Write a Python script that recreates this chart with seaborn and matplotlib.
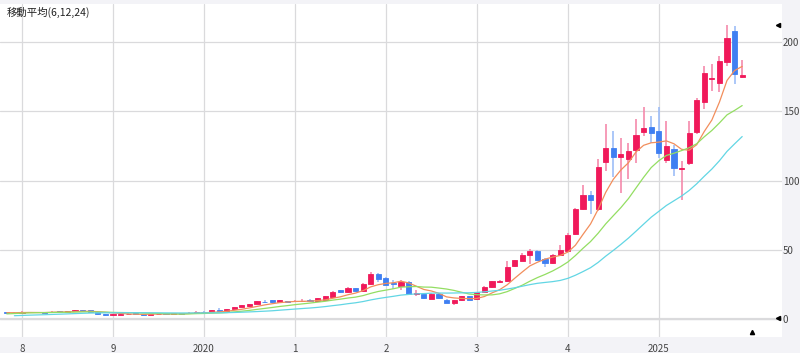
import numpy as np
import pandas as pd
import matplotlib
matplotlib.use("Agg")
import matplotlib.pyplot as plt
import seaborn as sns

# monthly candles, Nov 2017 .. Dec 2025
opens = [4.8, 4.6, 4.3, 4.9, 5.1, 5.0, 4.9, 5.6, 5.2, 5.8, 6.6, 6.7, 4.8, 3.8, 2.8, 3.2,
         3.6, 4.2, 3.8, 2.9, 3.8, 4.2, 4.0, 4.3, 4.1, 4.5, 5.3, 5.2, 6.5, 6.0, 7.2, 8.7,
         9.2, 10.8, 12.6, 13.5, 12.2, 13.0, 12.8, 13.2, 14.0, 12.8, 14.0, 16.0, 20.7, 19.3, 22.5, 20.0,
         25.4, 32.8, 29.7, 25.8, 24.1, 26.8, 18.3, 18.3, 14.8, 18.3, 14.0, 11.6, 13.5, 16.4, 14.5, 19.8,
         22.9, 27.0, 27.2, 38.1, 42.2, 46.6, 49.5, 43.7, 40.6, 46.6, 49.0, 61.8, 79.7, 90.0, 79.2, 113.5,
         123.4, 117.4, 116.0, 122.0, 134.8, 138.8, 136.0, 115.0, 123.0, 108.4, 113.0, 135.5, 156.5, 173.8, 170.3, 185.5,
         208.4, 174.6]
closes = [4.2, 4.2, 5.4, 5.2, 4.8, 4.7, 5.5, 5.3, 5.6, 6.5, 6.2, 5.0, 3.5, 2.8, 3.4, 3.8,
          4.0, 3.8, 2.8, 3.6, 4.0, 3.9, 4.2, 4.0, 4.6, 5.4, 4.8, 6.5, 5.8, 7.0, 8.7, 9.9,
          10.8, 12.8, 12.3, 12.2, 13.5, 12.6, 13.2, 13.4, 12.8, 14.9, 16.4, 19.8, 19.3, 22.5, 20.0, 25.6,
          32.6, 29.2, 24.9, 25.3, 26.8, 18.1, 18.6, 14.9, 18.3, 14.9, 11.6, 13.5, 16.4, 14.0, 19.3, 23.2,
          27.2, 27.3, 37.7, 42.5, 46.6, 49.5, 43.0, 40.6, 46.6, 49.7, 61.0, 79.2, 90.0, 86.0, 109.9, 123.4,
          117.4, 119.6, 121.5, 133.0, 138.4, 134.3, 120.3, 125.0, 109.0, 109.0, 134.3, 158.2, 177.8, 174.5, 186.7, 203.0,
          177.0, 176.3]
highs = [5.0, 4.8, 5.7, 5.5, 5.3, 5.2, 5.8, 5.8, 5.9, 6.9, 6.9, 6.9, 5.0, 4.0, 3.6, 4.0,
         4.3, 4.4, 4.0, 3.8, 4.3, 4.4, 4.5, 4.5, 4.8, 5.6, 5.6, 6.8, 7.8, 7.3, 9.0, 10.2,
         11.2, 13.2, 13.8, 13.8, 13.8, 13.3, 13.6, 14.6, 14.3, 15.3, 16.8, 20.2, 21.0, 22.9, 22.8, 26.0,
         34.0, 33.2, 30.5, 28.0, 28.0, 27.2, 21.0, 18.6, 18.6, 18.6, 14.3, 13.8, 16.8, 16.8, 19.8, 23.8,
         27.8, 28.5, 41.7, 43.0, 47.5, 50.5, 50.0, 44.5, 47.0, 53.5, 62.0, 80.0, 97.0, 92.5, 115.4, 140.8,
         136.0, 131.0, 127.5, 144.4, 152.9, 146.4, 152.9, 143.2, 126.0, 114.2, 143.2, 160.0, 183.0, 184.3, 190.3, 212.5,
         211.6, 187.0]
lows = [4.0, 4.0, 4.2, 4.7, 4.6, 4.5, 4.8, 5.1, 5.0, 5.6, 6.0, 4.8, 3.3, 2.6, 2.6, 3.0,
        3.4, 3.6, 2.6, 2.7, 3.6, 3.7, 3.8, 3.8, 3.9, 4.3, 4.6, 5.0, 5.4, 5.8, 7.0, 8.5,
        9.0, 10.6, 11.5, 12.0, 12.0, 12.4, 12.5, 12.5, 12.5, 12.6, 13.8, 15.8, 19.0, 19.0, 19.7, 19.8,
        25.0, 27.0, 24.5, 22.0, 21.0, 17.8, 17.0, 14.6, 14.5, 14.6, 11.3, 10.5, 13.2, 13.5, 14.0, 19.5,
        22.5, 26.0, 27.0, 37.8, 41.8, 40.0, 42.5, 38.0, 40.0, 46.0, 48.5, 61.0, 78.5, 76.0, 78.0, 107.0,
        103.0, 91.0, 101.0, 113.0, 132.3, 127.5, 116.7, 113.0, 103.3, 86.4, 111.0, 134.0, 151.7, 165.0, 164.2, 183.0,
        169.8, 174.0]
# earlier closes (Jan 2016 .. Oct 2017), only used to start the averages
prior_closes = [0.6, 0.6, 0.7, 0.8, 0.8, 0.9, 0.9, 1.0, 1.0, 1.1, 1.2, 1.3,
                2.2, 2.8, 3.3, 3.8, 4.1, 4.4, 4.6, 4.8, 5.0, 4.9]
year_ticks = [2, 14, 26, 38, 50, 62, 74, 86]
year_labels = ["8", "9", "2020", "1", "2", "3", "4", "2025"]
ma_windows = [6, 12, 24]
ma_colors = ["#f28e5c", "#93de62", "#62d6e4"]

df = pd.DataFrame({"open": opens, "high": highs, "low": lows, "close": closes})
df["pos"] = np.arange(len(df))
up = df["close"] >= df["open"]

all_close = pd.Series(prior_closes + closes)
n0 = len(prior_closes)

sns.set_style("white")
plt.rcParams["font.family"] = ["Noto Sans CJK JP", "DejaVu Sans"]

fig = plt.figure(figsize=(8, 3.53), dpi=100)
fig.patch.set_facecolor("#f3f3f7")
ax = fig.add_axes([0, 0.045, 0.977, 0.944])
ax.set_facecolor("white")

ax.grid(True, color="#dadadc", linewidth=0.9)
ax.set_axisbelow(True)
ax.axhline(0, color="#dcdcde", linewidth=1.6, zorder=0)

red, blue = "#f0195a", "#3f7ff2"
red_w, blue_w = "#f58aab", "#9dbdf7"
for is_up, body, wick in [(True, red, red_w), (False, blue, blue_w)]:
    d = df[up == is_up]
    ax.vlines(d["pos"], d["low"], d["high"], color=wick, linewidth=1.2, zorder=2)
    lo = np.minimum(d["open"], d["close"])
    h = (d["close"] - d["open"]).abs()
    ax.bar(d["pos"], h, bottom=lo, width=0.68, color=body, edgecolor=body,
           linewidth=0.6, zorder=3)

for w, c in zip(ma_windows, ma_colors):
    ma = all_close.rolling(w).mean().iloc[n0:].reset_index(drop=True)
    m = pd.DataFrame({"pos": df["pos"], "ma": ma}).dropna()
    sns.lineplot(data=m, x="pos", y="ma", ax=ax, color=c, linewidth=0.9,
                 estimator=None, zorder=4)

ax.set_xlim(-0.9, 102.2)
ax.set_ylim(-13, 227.7)
ax.set_xticks(year_ticks)
ax.set_xticklabels(year_labels)
ax.set_yticks([0, 50, 100, 150, 200])
ax.yaxis.tick_right()
ax.tick_params(axis="y", length=0, pad=1, labelsize=7, labelcolor="#444444")
ax.tick_params(axis="x", length=2, width=0.8, color="#888888", pad=3,
               labelsize=7, labelcolor="#444444")
ax.set_xlabel("")
ax.set_ylabel("")
for s in ax.spines.values():
    s.set_visible(False)

ax.text(0.008, 0.973, "移動平均(6,12,24)", transform=ax.transAxes, va="center",
        ha="left", fontsize=7.5, color="#222222")

ax.plot([0.995], [0.937], marker="<", ms=3, color="black", transform=ax.transAxes, clip_on=False)
ax.plot([0.995], [0.057], marker="<", ms=3, color="black", transform=ax.transAxes, clip_on=False)
ax.plot([0.962], [0.015], marker="^", ms=3, color="black", transform=ax.transAxes, clip_on=False)

fig.savefig("out.png", dpi=100, facecolor=fig.get_facecolor())
